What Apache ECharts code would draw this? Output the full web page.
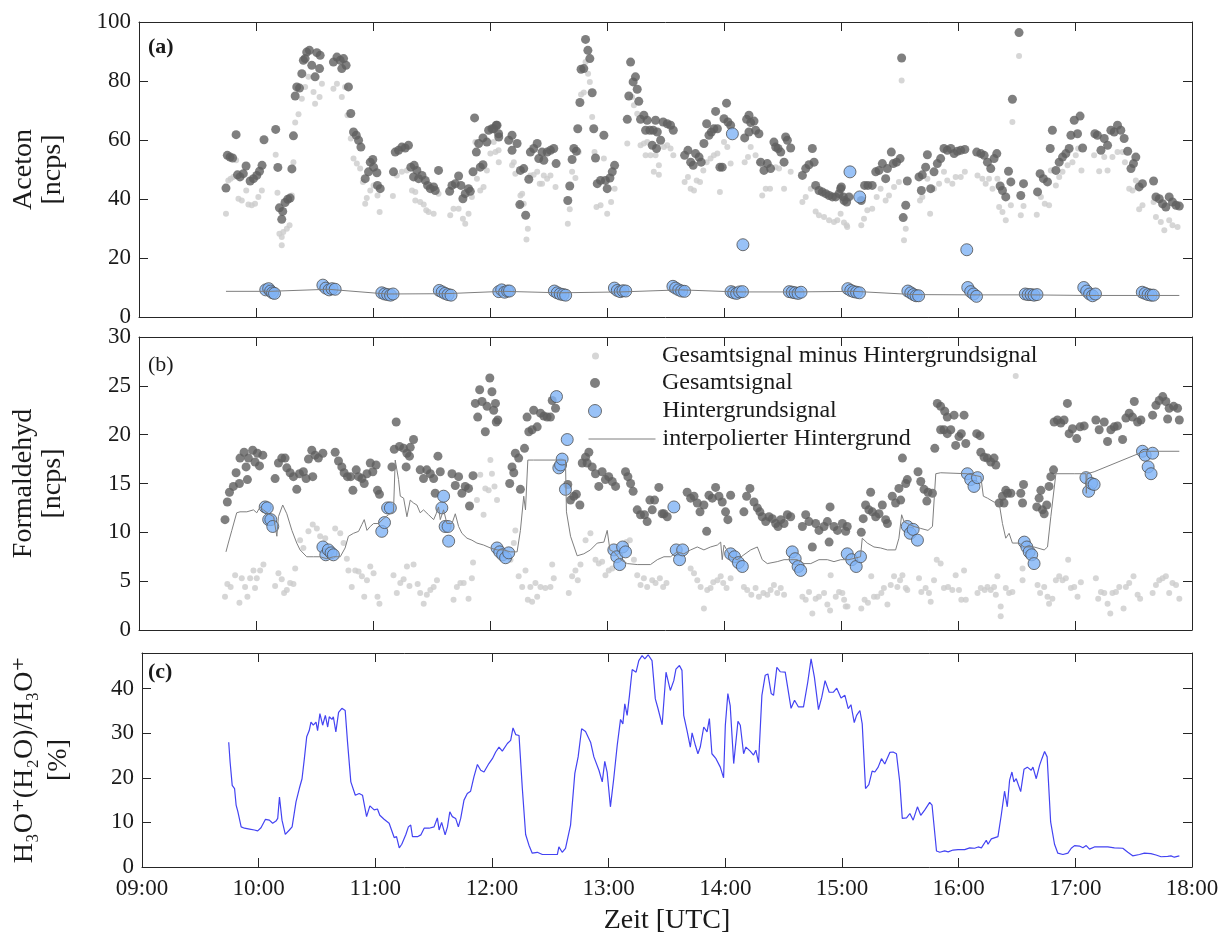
<!DOCTYPE html>
<html><head><meta charset="utf-8">
<script src="https://cdn.jsdelivr.net/npm/echarts@6/dist/echarts.min.js"></script>
<style>html,body{margin:0;padding:0;background:#fff}#c{width:1230px;height:939px}</style>
</head><body><div id="c"></div>
<script>
// time in minutes since 00:00 UTC
const timeLabels = ['09:00','10:00','11:00','12:00','13:00','14:00','15:00','16:00','17:00','18:00'];

const acetonGesamt = [[584.6,43.7],[585.3,54.8],[586.7,54.2],[588,53.9],[589.8,61.8],[590.5,48.2],[591.8,47.5],[593.5,48.6],[594.9,51.2],[597,46.1],[598.7,46.9],[600.4,48],[601.8,49.4],[603.1,51.4],[604.1,60.1],[610.1,63.6],[611.2,50.7],[612,37],[613.2,33.1],[613.7,35.8],[614.9,38.8],[616.3,39.9],[617.5,40.3],[618.4,50.2],[619.2,61.4],[620.1,74.9],[620.9,78],[622.3,77.6],[623.5,82.5],[624.3,87],[625.2,87.6],[626,89.8],[627.4,90.4],[628.6,85.3],[630.3,81.4],[631.2,89.6],[632.6,84.2],[632.9,88.7],[639.7,86.4],[641.5,88.1],[643.2,87],[644,84.2],[644.9,87.6],[646.2,85.3],[647.4,78],[648.6,69],[650,62.7],[651.4,61.6],[652.6,59.9],[653.8,57.6],[656,46.9],[657.7,49.2],[658.6,52.5],[659.9,53.4],[660.3,50.8],[662,48.9],[662.3,44.6],[663.7,43.5],[670.5,49.2],[671.4,55.9],[673.1,56.5],[674.8,57.6],[676.5,57.3],[678.2,58.2],[679.4,50.8],[680.8,47.5],[681.1,51.4],[682.5,49.7],[683.4,46.9],[685.1,48],[686.8,46.3],[688,44.6],[689.4,43.5],[691.1,44.1],[691.9,42.9],[693.6,49.7],[699.3,42.6],[700.5,44.6],[702.2,45.2],[703.9,47.8],[705.1,44.6],[706.1,40.1],[707.3,41.8],[709,43.5],[709.9,42.6],[711.3,49.2],[712.1,67.5],[713,55.9],[714.2,58.8],[715,50.8],[716.4,51.6],[716.4,60.7],[718.4,59.3],[719.3,63.3],[721,63.8],[721.9,63.8],[723.2,65],[723.6,65],[724.4,62.1],[724.5,61],
[729.6,59.9],[731.3,61.6],[731.3,56.5],[733.9,58.8],[735.6,49.7],[737.3,50.3],[735.3,38.1],[738.3,34.5],[739.9,46.7],[740.7,55.9],[742.4,57.1],[744.2,58.8],[745,53.7],[746.7,55.9],[747.6,53.1],[749.3,55.9],[751,56.5],[752.7,57.1],[753.9,52],[759.9,39.5],[760.9,44.4],[762.1,53.4],[763,57.1],[764.3,56.2],[765,63.8],[766.1,72.7],[766.7,84],[768.1,84.2],[769,94.1],[770.2,90.4],[771.2,87.6],[772.4,76],[773.2,63.8],[774.1,53.9],[775,45.2],[776.7,46.3],[778.4,61.6],[779.2,46.3],[780.1,43.5],[781.5,47.1],[782.7,49.2],[783.9,51.4],[790.4,67],[791.2,74.9],[792.1,86.4],[793.4,79.7],[794.6,81.4],[795.5,77.2],[796.3,73.1],[797.2,67],[798.9,68.4],[799.8,63.3],[800.6,66.7],[802,63.3],[803.2,58.2],[803.7,63.3],[804.9,66.7],[805.4,57.1],[805.8,62.7],[807.5,59.9],[808.8,66.1],[810.9,65.5],[812.6,65],[814,63.3],[819.8,54.8],[821.5,56.5],[822.9,52.5],[824.2,51.4],[825.4,55.4],[827.2,54.2],[828.3,52.5],[829.7,58.8],[831.1,65.5],[832.3,61.6],[833.5,62.7],[834.8,63.8],[835.7,69.7],[836.6,63.8],[837.9,50.8],[839.1,50.8],[840,67.2],[841.3,72.5],[842,66.1],[843.4,65],[850.6,60.7],[851.6,67],[852.8,68.4],[852.8,62.7],[853.7,65.9],[855.4,66.4],[856.2,63.3],[857.9,62.1],[858.8,52.5],[860.5,49.7],[862.2,52],[863.9,50.3],[865.6,59.3],[866.5,57.6],[867.7,57.1],[869.1,55.9],[870.8,52.5],[871.6,61],[872.5,59.9],[874.2,57.3],[880.2,48],[881.9,50.3],[883.6,51.6],[885.3,57.1],[886.2,52.5],[887,44.6],[888.7,42.9],[890.4,42.4],[892.2,41.8],[893.9,41.2],[895.6,40.7],[897.3,40.7],[899,41.8],[899.8,43.5],[900.2,44.1],[901.2,40.7],[901.6,39.5],[902.9,39],[904.1,40.7],
[910.4,39.5],[912.1,44.6],[913.8,44.6],[916,44.6],[917.8,49.2],[919.5,49.7],[921.2,52],[922.9,46.9],[923.8,50.3],[925.8,55.9],[926.8,52],[928.5,52.5],[930.3,53.7],[931.1,87.8],[931.9,33.7],[933.2,37.9],[934,46.1],[940,47.5],[941.2,42.9],[941.7,48.2],[943.4,50.8],[944.3,55],[946,43.5],[947.7,49.2],[949.4,52],[951.1,53.7],[952.8,57.1],[954.5,56.5],[956.3,57.1],[958,55.4],[959.7,56.2],[961.4,56.5],[963.5,56.8],[969.6,55.9],[971.7,55.4],[973.4,54.8],[975.1,52.5],[976.8,50.3],[978.5,53.7],[979.9,55.4],[981.6,44.4],[982.8,42.9],[984.5,40.7],[985.9,49.4],[987.1,45.8],[987.9,73.8],[991.3,96.4],[992.2,41.2],[993.6,45.2],[1000.8,42.4],[1002.1,48.6],[1003.8,46.9],[1005.9,45.8],[1007.3,57.1],[1008.4,63.3],[1010.2,49.7],[1011.9,52.5],[1013.6,54.2],[1015.3,55.4],[1017,57.1],[1017.9,61.6],[1019.6,66.7],[1021.3,62.1],[1022.6,68.1],[1023.9,57.3],[1030.2,62.1],[1031.5,61.6],[1033.3,56.5],[1035,60.5],[1036.7,58.2],[1038.4,63.3],[1040.1,62.7],[1041.8,65],[1043.5,63.3],[1045.2,60.5],[1047,56.2],[1048.7,50.3],[1050,52],[1051.2,54.2],[1052.9,44.1],[1054.6,45.2],[1060.3,46.1],[1061.5,40.7],[1063.2,40.1],[1064.9,38.4],[1066.6,37.3],[1068.3,40.7],[1070,39],[1071.8,37.9],[1073.5,37.6]];

const acetonNetto = [[584.6,35],[585.8,46.3],[587,46.9],[588.4,47.5],[589.8,53.1],[591,40.1],[592.7,39.5],[595,42.9],[596.1,38.1],[597.8,37.9],[599.5,38.4],[601.2,40.7],[603,42.9],[610.1,55],[611,42.1],[612,28.2],[613.2,27.1],[613.2,24.3],[614,28.8],[615.8,29.9],[617.2,31.1],[618.4,41.2],[619.2,52.5],[620.1,65.9],[621.8,68.7],[623.5,74],[625.2,78],[626.9,81.4],[629.5,76.3],[630.3,72.3],[632.6,74.6],[633.8,79.1],[639.7,77.4],[641.5,79.1],[644,74.6],[645.7,78],[646.9,68.4],[648.6,60.5],[650,53.7],[651.7,52],[653.4,50.3],[654.8,45.8],[656,38.4],[656.8,40.3],[658.6,42.9],[660.3,44.6],[662.3,41.2],[663.4,35.6],[670.2,41],[672.2,48],[674.8,49.2],[677.4,49.7],[680,42.9],[681.7,42.4],[681.7,39.5],[684.2,39],[686,38.1],[687.3,36.2],[688.5,35.6],[691.1,35],[693.6,41.8],[699.6,34.5],[701.3,36.7],[703.9,36.7],[706.1,33.3],[707.3,31.6],[709,35],[710.7,40.7],[712.5,59.3],[713.3,46.9],[715,42.9],[716.7,44.1],[718.4,49.7],[720.2,55.4],[721.9,59.3],[722.8,55.9],[724.4,56.5],[724.5,52.5],
[731.3,51.4],[732.2,52.5],[733,48.6],[735.6,41.2],[736.5,41.8],[735.6,38.1],[737.3,38.4],[738.7,26.3],[739.4,29.9],[740.7,48],[742.4,48.2],[744.2,49.2],[745.5,45.2],[746.7,45.2],[747.6,48],[749.3,46.9],[751,48],[753.6,44.1],[759.9,31.6],[760.9,36.5],[762.1,49.2],[763.8,47.1],[765.5,55.9],[766.7,75.4],[768.1,76.1],[769,86.4],[770.3,82.5],[771.2,79.7],[772.4,67.8],[773.6,55.9],[774.6,37.3],[776.7,37.9],[778.4,53.7],[780.1,35],[782.1,39],[783.9,43.5],[790.4,58.8],[792.9,74.6],[793.8,71.8],[795.5,68.9],[797.2,58.2],[798.9,58.8],[799.8,54.8],[800.6,59.3],[802.3,54.8],[804,49.2],[804.9,54.8],[806.6,51.4],[806.6,48.2],[809.2,57.6],[810.9,58.2],[812.6,57.1],[814,54.8],[819.8,45.8],[821.5,47.5],[822.9,43.5],[824.6,42.9],[826,46.3],[827.7,45.8],[829.4,49.7],[831.1,52.5],[833.1,53.7],[834.8,54.8],[836.6,55.4],[837.9,42.4],[840,59.3],[841.7,57.6],[843.4,52],[850.6,52.5],[852.3,54.2],[853.7,57.6],[856.2,54.8],[857.9,52.5],[859.6,41.2],[861.4,43.5],[863.6,43.5],[866.5,50.8],[868.2,50.3],[870.8,43.5],[874.2,49.2],[880.2,39],[881.9,40.7],[884.5,43.5],[887,35.8],[888.7,34.5],[891.3,33.9],[893.9,32.8],[896.4,32.2],[898.1,32.8],[899.8,35],[901.5,32],[902.9,31.1],[903.2,30.5],
[910.4,31.1],[911.8,33.3],[913.5,36.2],[916,36.7],[918.3,40.7],[920.3,43.5],[922.9,39.5],[924.6,41.2],[927.2,44.1],[929.7,45.8],[931.1,80.2],[932.3,26],[933.2,29.9],[940.5,39.5],[941.7,40.7],[944.3,46.9],[945.7,35],[947.7,43.5],[950.3,45.2],[952.8,49.2],[954.5,46.3],[957.1,45.2],[958.8,47.5],[961.4,47.5],[963.5,49.2],[970,48],[972.5,46.9],[974.2,45.2],[975.9,46.9],[977.7,43.5],[980.2,46.9],[981.1,37.3],[982.8,35.6],[984.5,32.8],[987.1,37.9],[987.9,66.1],[991.3,88.5],[992.2,34.5],[993.6,37.6],[1000.4,34.7],[1002.5,40.7],[1004.5,38.4],[1006.7,37.9],[1007.6,49.7],[1010.2,44.6],[1011.9,47.5],[1013.6,49.2],[1016.2,51.4],[1018.7,52.5],[1020.4,54.8],[1021.6,57.1],[1023.3,49.7],[1029.8,54.8],[1032.4,49.4],[1035,54.2],[1036.7,49.7],[1039.2,54.2],[1041.8,55.9],[1044.4,55.9],[1045.6,52.5],[1047.8,43.5],[1049.5,42.9],[1051.2,46.3],[1052.9,36.5],[1054.6,37.9],[1060.3,39],[1061.5,33.9],[1064,32.2],[1065.8,29.4],[1068.3,32.8],[1070,31.1],[1072.6,30.5]];

const acetonHintergrund = [[605,9.2],[606.5,9.6],[607.5,8.8],[608.5,8.2],[609.5,8],
[634.3,10.8],[635.8,9.8],[637.5,9.2],[639,9.6],[640.6,9.4],
[664.5,8.2],[666,7.8],[667.5,7.6],[669,7.4],[670.3,7.8],
[694,9],[695.5,8.5],[697,8],[698.5,7.6],[700,7.4],
[724.5,8.6],[726,9.2],[727.5,8.4],[729,8.8],[730,8.8],
[753,8.8],[754.5,8.2],[756,7.8],[757.5,7.6],[758.8,7.4],
[783.8,9.8],[785.3,9],[786.8,8.6],[788.2,8.9],[789.6,8.8],
[813.8,10.4],[815.2,9.8],[816.8,9.2],[818.3,8.8],[819.8,8.7],
[843.6,8.6],[844.3,62.1],[845,8.2],[846.5,8],[848,8.5],[849.5,8.6],[849.7,24.5],
[873.5,8.6],[875,8.4],[876.5,8.2],[878,8],[879.5,8.4],
[903.5,9.6],[904.6,49.2],[905,9],[906.5,8.6],[908,8.4],[909.5,8.2],[909.6,40.7],
[934.3,8.8],[935.8,8.2],[937.2,7.6],[938.5,7.2],[939.8,7.2],
[964.5,22.8],[965,10],[966.5,8.6],[968,7.8],[969.5,7],
[994.5,7.8],[996,7.6],[997.5,7.6],[999,7.4],[1000.5,7.6],
[1024.5,10],[1026,8.8],[1027.5,7.8],[1029,7.2],[1030.5,7.8],
[1054.5,8.4],[1056,8],[1057.5,7.6],[1059,7.4],[1060.2,7.4]];

const acetonInterp = [[584.6,8.7],[607,8.7],[637,9.4],[667,7.8],[697,7.9],[727,8.7],[756,8.2],[787,8.5],[817.7,9.2],[846.8,8.5],[876.8,8.5],[906.6,8.7],[937.5,7.6],[967.4,7.5],[997.3,7.5],[1026.4,7.3],[1057.2,7.3],[1073.5,7.3]];

const formGesamt = [[584.1,11.3],[585.3,13.1],[586.4,14.1],[588.4,14.7],[589.8,16.1],[591.5,15],[591.8,17.6],[593.9,18.2],[594.9,16.7],[595.6,15.4],[596.1,17.6],[598.3,18.4],[599.5,17.2],[600.7,18.1],[601.8,16.8],[603.5,17.9],[609.8,15.5],[611.5,17.1],[613.2,17.6],[614.9,17.6],[615.8,16.6],[617.5,16.1],[619.2,15.7],[620.9,14.4],[622.3,16],[624.3,16.2],[625.7,15.5],[626.9,17.5],[628.6,18.4],[629.1,15.7],[630.3,17.9],[632,17.6],[634.3,18.1],[640.6,18.2],[642.3,17.3],[644,16.7],[645.2,16.1],[646.9,15.7],[648.6,15.7],[649.7,14.3],[651.4,16.4],[652.6,15.7],[654.3,15.5],[655.5,15],[656.9,16],[658.6,17.1],[659.9,16.2],[661.6,16.9],[662.3,14.3],[663.3,13.9],[669.7,16.7],[670.9,18.5],[671.9,21.3],[673.6,18.8],[675.7,18.6],[677,16.7],[677.4,18.1],[678.7,17.8],[679.1,18.7],[680.8,19.5],[684.2,16.4],[685.9,15.5],[687.6,16.4],[689.4,16],[691.1,15.5],[691.9,14],[693.3,17.8],[694.5,16.2],[700.5,16],[702.2,14.8],[703.9,15.7],[705.6,14],[707.3,14.7],[709,14.5],[709.5,12.7],[711.3,15.8],[712.5,23.2],[713.7,21.8],[714.7,24.6],[715.9,23.4],[717.6,20.3],[718.5,22.9],[719.9,25.8],[721,24.4],[721.9,22.5],[722.8,23.2],[723.2,21.3],[724,21.5],
[730.1,15],[731.3,16.7],[732.2,16.1],[733,18.1],[734.7,17.6],[735.6,14.4],[737.7,18.6],[739,21.8],[739.9,20.3],[741.6,20.5],[742.4,22.5],[744.2,20.8],[745.9,22.2],[747.6,21.9],[749.3,21.8],[751,21.8],[751.9,23.5],[753.6,22.7],[759.9,14.9],[761.3,13.3],[763,13.7],[764.3,13.9],[766.1,12.8],[767.3,17.1],[769,17.7],[769.8,17.1],[770.7,18.2],[772.4,16.7],[774.1,16],[775.8,14.7],[777.5,16.2],[779.2,15.4],[780.9,15.7],[782.7,15.2],[784.4,14.7],[789.5,16.2],[790.7,15.7],[792.1,15],[793.4,14.2],[795.5,12.3],[797.2,11.8],[799.2,11.8],[800.6,11.1],[802,13.3],[803.2,12.3],[804.4,13.3],[806.6,14.6],[808.3,11.9],[809.2,11.9],[810.9,11.6],[821.1,14.1],[822.9,13.5],[824.6,13.7],[826.3,13],[827.7,12.1],[829.7,12.8],[831.1,10.1],[832.3,13.8],[834,13.5],[835.7,14.6],[837.4,13.7],[839.1,13.1],[840.8,12.1],[842,11.3],[843.4,13.8],[850.2,12.1],[851.6,13.7],[853.3,14.5],[855.4,13.1],[857.1,12.5],[858.4,12.1],[859.6,11.6],[861.4,11.1],[863.1,11.6],[864.8,11.4],[866.5,10.9],[867.7,10.6],[869.1,11.3],[870.8,10.9],[872.5,11.8],[874.2,11.6],[880.2,10.6],[881.9,11.8],[883.6,11.1],[885.3,8.5],[887,10.9],[888.7,10.2],[891.3,10.6],[893,11.1],[893.9,9],[894.4,12.6],[896.4,10.6],[898.2,10.2],[900.7,10.9],[902.4,10.1],[903.2,10.6],
[910.4,10],[911.4,11.4],[912.6,12.8],[914.3,12.3],[915.2,14.1],[916.1,12.1],[917.8,11.6],[919.5,11.9],[921.2,12.8],[922.9,11.3],[923.8,10.9],[926.3,13.7],[928,13],[929.7,14.5],[930.6,13.3],[931.5,17.6],[933.2,15],[934,15.4],[939.5,16.2],[940.9,15.2],[942.6,14.4],[944,13.2],[944.6,14.1],[946.9,14],[948.1,18.6],[949.4,23.2],[951.1,22.9],[951.1,20.5],[952.8,20.5],[953.2,22.4],[954.5,21.8],[954.5,20.1],[956.3,20.5],[958,22],[958.8,18.9],[960.5,19.8],[961.7,20.1],[963.1,22],[964,19.1],[969.6,20.1],[971.3,19.9],[971.7,18.2],[973.4,17.7],[975.1,17.6],[976.8,17.2],[978.5,17.6],[979.4,16.9],[981.1,13],[982.8,13.7],[983.6,13],[984.5,14.3],[985.4,14],[987.1,14],[992.2,14],[993.1,13],[993.6,14.9],[1000.4,12.6],[1001.6,13.5],[1002.5,14.3],[1003.3,12.3],[1004.2,11.9],[1005.5,12.8],[1006.7,14.7],[1007.6,15.7],[1009,16.4],[1009.3,21.3],[1011,21.5],[1012.7,21.2],[1014.4,21.5],[1016.1,23.2],[1017,20.1],[1018.7,20.6],[1020.9,19.6],[1022.6,20.8],[1024.7,20.9],[1030.7,21.5],[1032.4,20.5],[1035,21.3],[1036.7,19.3],[1038.4,20.5],[1040.1,20.8],[1041.8,20.9],[1044.4,19.5],[1046.1,21.7],[1047.8,22.2],[1049.5,21.8],[1050.4,23.4],[1052.1,21.3],[1053.8,21.5],[1059.8,22],[1061.5,23],[1063.2,23.5],[1065,23.9],[1066.6,23.4],[1067.5,21.6],[1068.3,22.7],[1070.6,22.9],[1072.6,22.7],[1073.5,21.5]];

const formNetto = [[584.1,3.4],[585.3,4.7],[587,4.4],[589.3,5.6],[591.5,2.8],[592.7,5.3],[594.4,4.4],[595.6,3.4],[597,5.3],[598.7,6.1],[599.5,4.3],[600.4,5.3],[602.1,6.1],[603.8,6.7],[609.8,4.5],[611.5,5.8],[613.2,5.2],[614.4,3.8],[615.8,4.1],[617.5,4.8],[619.2,4.7],[620.1,6.3],[622.6,9.2],[624.3,8.4],[626.9,10.1],[629.1,10.8],[631.2,10.4],[632.9,9.6],[635.5,9.4],[640.6,10.4],[643.2,9.9],[644.9,8.9],[646.6,7.3],[647.4,6.1],[649.1,4.4],[650.9,6.1],[652.6,6],[654.3,5.5],[655.5,3.4],[656.9,5.1],[658.6,6.5],[660.3,5.8],[662.3,3.4],[663.3,2.7],[670.5,5.6],[672.2,3.8],[674,4.8],[675.7,5.2],[677.4,6.5],[678.7,4.5],[680.8,6.7],[682.9,4.7],[684.2,3.8],[686,2.7],[687.6,3.6],[689.4,4.1],[691.1,4.4],[692.8,5.1],[701.3,3.1],[703,4.4],[704.8,4.8],[706.5,4.8],[709,3.2],[710.7,5.3],[711.3,6.9],[713.3,13.3],[715,15.9],[716.7,11.8],[717.6,14.5],[719.3,14.3],[720.2,17.4],[721,16],[722.3,14.7],[723.6,13.3],[730.5,7.2],[732.2,8.9],[733,10.2],[734.7,5.5],[736.5,4.4],[738.2,6.1],[739.4,3.1],[740.7,4.4],[741.6,2.9],[743.3,4.8],[744.2,3.4],[745.9,4.4],[748.4,4.3],[751,4.4],[751.9,6.7],[752.7,5.3],[760.4,3.8],[762.1,5.5],[763.8,6.1],[765,5.1],[766.4,6.7],[769,9.2],[771.5,9.9],[774.1,7.2],[775.8,6.8],[777.5,7],[779.2,5.6],[780.9,6.1],[782.7,6.3],[790,9],[791.7,9.2],[793.8,7.2],[795.5,5.6],[797.2,4.6],[798.9,5.3],[800.6,4.4],[803.2,5.1],[804.9,4.8],[807.1,5.3],[808.8,4.4],[810.5,4.8],[822.9,6.3],[824.6,5.8],[826.3,5.1],[828,4.4],[829.7,2.2],[831.4,4.1],[833.1,4.3],[834.5,4.9],[836.6,5.1],[838.3,5.5],[839.6,4.8],[841.3,4.3],[843.4,5.3],[850.2,4.4],[851.9,4.1],[854,3.6],[856.2,4.3],[857.9,3.4],[860.2,3.8],[862.2,3.6],[863.9,4.1],[865.6,4.6],[867.3,3.8],[869.1,4.3],[870.8,3.6],[880.2,3.4],[881.9,3.1],[883.6,3.9],[885.3,1.7],[887,3.2],[888.7,3.4],[891.3,3.8],[893,2.6],[894.4,2],[894.7,5.6],[897.3,3.4],[899,3.9],[900.7,3.8],[901.6,3.1],[902.4,2.4],[903.3,2.4],[910.4,2.2],[912.1,3.1],[913.8,2.8],[915.5,5.5],[916.9,3.4],[918.6,3.4],[920.7,3.8],[922,4.3],[923.8,2.6],[925.5,4.6],[927.2,5.5],[928.9,4.4],[930.3,5.1],[931.5,5.6],[933.2,4.3],[934,4.1],[940,5.3],[941.2,3.9],[943.4,4.3],[945.1,3.8],[946,2.9],[947.7,5.1],[949.1,7.2],[951.1,6.8],[952.8,4.3],[954.9,4.4],[957.1,4.1],[958.8,5.6],[960.5,4.1],[961.7,3.1],[963.1,6.1],[964,3.1],[970,3.8],[971.7,4.3],[973.7,4.1],[975.1,4.4],[976.8,4.1],[978.5,4.4],[979.4,3.6],[980.2,5.5],[981.9,2.4],[981.9,1.4],[984.5,4.3],[986.2,3.8],[987.9,3.9],[989.6,26],[993.1,5.1],[993.1,6.3],[1000.8,4.6],[1002.1,3.8],[1004.2,4.4],[1005.9,3.4],[1006.7,2.7],[1008.4,3.2],[1010.2,5.1],[1011.9,5.5],[1013.6,5.1],[1015.3,5.3],[1016.5,7.2],[1017.9,4.3],[1019.6,4.4],[1021.3,3.4],[1023,4.9],[1030.7,5.3],[1031.9,3.2],[1033.3,3.9],[1035,3.8],[1036.7,2.7],[1038.1,1.7],[1039.2,3.8],[1041,3.9],[1042.7,4.4],[1044.9,2.2],[1046.1,4.4],[1047.8,4.8],[1050,5.5],[1052.1,3.6],[1053.4,3.2],[1059.8,3.8],[1061.5,4.6],[1063.2,5.1],[1064.9,5.3],[1066.6,5.5],[1068.3,3.8],[1070,4.8],[1071.8,4.6],[1073.5,3.2]];

const formHintergrund = [[604.7,12.6],[605.8,12.5],[606.5,11.3],[607.6,11.3],[608.6,10.6],
[634.3,8.5],[635.8,7.7],[637.1,8.2],[638.5,7.9],[639.7,7.7],
[664.5,10.1],[665.9,11],[667.5,12.5],[668.9,12.5],
[695.3,12.5],[696.2,13.7],[697,10.6],[698.5,10.6],[698.8,9.1],
[723.6,8.4],[725,8],[726.5,7.7],[728,7.4],[729.6,7.9],
[754.1,23.9],[755.3,16.6],[756.2,16.9],[757,17.5],[758.7,14.4],[759.6,19.5],
[783.5,8.2],[785,7.5],[786.5,6.7],[788,8.5],[789.5,8],
[814.3,12.6],[815.5,8.2],[817.2,7.2],[818.8,8.2],
[843.4,7.8],[845.4,7.5],[847.4,6.9],[849.4,6.5],
[875,8],[876.5,7.3],[878,6.5],[879.3,6.1],
[903.2,7.8],[905.5,7.2],[907.8,6.5],[910,7.5],
[934,10.6],[935.5,9.9],[937,10.3],[939.2,9.2],
[964.8,16],[966.5,15.4],[968.2,14.7],[970,15.6],
[994,9],[995.3,8.5],[996.5,8],[997.8,7.7],[999,6.8],
[1025.6,15.6],[1027,14.2],[1028.5,15],[1029.8,14.9],
[1054.6,18.3],[1056,17.9],[1057.5,16.7],[1059,16],[1059.8,18.1]];

const formInterp = [[584.6,8],[585.8,8.9],[587.6,10.2],[590.1,12],[591.8,12.1],[595.3,12.1],[598.7,12.3],[600.4,12],[602.1,12.6],[603.8,12.3],[606.5,11.9],[609,11.6],[610.7,9.6],[611.5,11.6],[613.7,12.8],[615.8,11.9],[618.4,10.2],[620.9,8.9],[622.6,8.2],[626,7.5],[629.5,7.5],[632.9,7.5],[636.3,7.3],[639.7,7.5],[643.2,7.5],[645.7,8.4],[647.4,9.6],[650,9.9],[652.6,10.1],[654.3,10.8],[655.5,11.3],[656.9,10.2],[658.6,10.6],[660.3,10.9],[662.8,10.9],[665.4,11.4],[667.9,11.8],[670.5,12.1],[671.4,17.4],[672.2,17.5],[673.1,15.4],[674,13.7],[675.7,13.5],[677.4,11.6],[679.1,13.3],[680.8,13],[682.5,12.8],[684.2,12],[685.9,12.3],[688.5,11.8],[691.1,11.3],[692.4,11.9],[693.6,12.6],[694.5,11.3],[696.2,12.3],[697.9,10.9],[700.5,10.9],[702.2,11.9],[703.9,10.6],[705.6,9.9],[708.2,9.4],[710.7,9.2],[713.3,8.9],[716.7,8.7],[720.2,8.4],[723.6,8.2],[727,8.2],[730.5,8],[733.9,8],[735.6,10.2],[737.3,13.7],[738.2,12.3],[739.4,17.4],[742.4,17.4],[754.4,17.4],[758.7,17.4],[759.2,12.1],[761.3,9.6],[764.7,7.6],[768.1,7.8],[771.5,8.2],[775,8.9],[778.4,9],[780.1,10.2],[781.5,8.2],[783.5,8],[786.9,7.2],[790.4,6.8],[795.5,6.7],[802.3,6.7],[805.8,7.2],[809.2,7.5],[812.6,7.5],[816,8],[819.4,7.8],[822.9,8.2],[826.3,8.5],[829.7,8.2],[833.1,8.5],[836.6,8.7],[838.3,9],[839.1,7.2],[840,8.7],[843.4,7.5],[846.8,7.2],[850.2,7.7],[853.7,8.2],[857.1,8.5],[859.6,7.2],[862.2,6.8],[867.3,7],[870.8,7.2],[874.2,7.2],[877.6,7.2],[881,6.8],[884.5,6.8],[888.7,7.2],[893,7.2],[896.4,7],[899.9,7.2],[904.1,7.2],[910,7.5],[910.9,9.4],[913.5,8.9],[916.9,8.5],[920.3,8.4],[923.8,8.2],[928,8.2],[929.7,9.4],[931.1,11.8],[932.3,11.1],[934,10.9],[937.4,10.6],[940.9,10.4],[944.6,10.2],[946.9,10.6],[948.6,16],[951.1,16.1],[964.8,16],[971.7,15.7],[973,13.7],[975.1,13.5],[978.5,13.1],[981.1,13],[982.8,10.9],[984.5,9.4],[986.2,9.9],[987.9,8.9],[991.3,8.9],[993.9,8.5],[999,8.5],[1004.2,8.2],[1005.9,8.5],[1007.6,11.6],[1010.2,16],[1019.6,16],[1025.6,16],[1025.8,14],[1026.2,16],[1029.8,16.2],[1055.5,18.3],[1073.5,18.3]];

const h3oRatio = [[584.6,28],[585.3,23.6],[586.4,18.3],[587.6,17.6],[588.4,13.9],[589.3,12.4],[591,9],[592.7,8.7],[595.3,8.5],[597.8,8.3],[599.5,8.1],[601.2,8.8],[603.5,10.7],[605.5,10.5],[607.2,9.8],[608.9,10.3],[609.8,10.9],[610.7,15.7],[612,10.5],[613.7,7.3],[615.8,8.3],[617.2,9],[619.2,14.6],[620.9,17.6],[622.3,19.8],[623.5,24.3],[624.7,29.2],[626,30.6],[626.9,32.5],[628.1,31.8],[629.5,32.5],[630.3,30.6],[631.5,34.4],[632.9,31.8],[634.3,34],[635.5,31.4],[636.3,33.7],[637.7,33.1],[638.4,33.7],[639.7,30.3],[641.1,34.7],[642.8,35.6],[644.5,35.1],[645.7,28],[647.4,19.1],[649.7,16.1],[651.7,16.5],[653.4,16.1],[654.3,16.5],[655.5,11.3],[657.2,13.7],[659.4,12.8],[661.1,13],[662.3,11.6],[664.5,10.7],[667.1,9.8],[669.7,6.6],[670.9,6.8],[672.3,4.3],[673.6,5.1],[675.7,7.3],[677,9],[678.2,9.4],[679.1,6.8],[681.7,6.8],[683.4,7.2],[685.1,8.7],[687.6,8.7],[690.2,9],[691.9,11],[692.8,8.3],[694.1,10],[695.9,7.2],[697.1,9],[698.3,12.4],[699.6,11.3],[701.3,10.9],[702.7,9],[703.9,10.9],[705.6,15],[707.3,16.5],[709,17],[710.7,20.2],[712.5,23],[714.2,21.7],[715.9,21.3],[718.4,23.2],[720.2,24.3],[721.9,25.8],[723.6,26.9],[725.3,26],[727.9,27.7],[729.6,28.4],[730.8,31.2],[732.2,29.7],[733.9,29.5],[735.6,17.6],[737.3,7.3],[739,4.9],[740.7,3.1],[743.3,3.3],[745.9,2.8],[749.3,2.8],[753.6,2.8],[754.4,4.5],[756.1,3.3],[757.8,4.2],[760.4,9.4],[762.6,21],[764.3,24.7],[766.1,31],[768.1,30.4],[770.7,28],[772.4,24.7],[775,21.7],[776.7,19.1],[778,23.7],[779.2,21.3],[780.9,13.5],[782.6,19.8],[784.4,27.3],[786.1,33.1],[787.3,32.1],[788.3,36.6],[789.5,34],[790.7,38.5],[792.1,44.3],[794.1,43.7],[795.5,46.3],[797.2,47.4],[798.6,46.7],[800.3,47.6],[802.3,46.3],[804,37.7],[805.4,35.5],[807.5,31.9],[809.5,43.7],[811.7,39.6],[813.5,41.8],[814.6,44.4],[816.4,45.2],[817.7,44.1],[818.6,34],[820.3,30.6],[822,26.9],[822.9,30.1],[824.6,27.3],[825.9,25.4],[827.1,26.9],[828.9,31.4],[830.6,30.3],[831.8,33.3],[833.1,25.4],[835.2,24.3],[837.4,22.4],[839.1,20],[840,31.8],[841.3,38.9],[842.5,36.2],[844.3,23.2],[846.5,32.7],[847.7,31.8],[849.4,25.4],[850.6,26.9],[852.8,26],[854.5,25.1],[855.7,26.2],[857.1,23.4],[858.8,38.5],[860.5,43],[861.9,43.3],[863.6,38.9],[864.8,38.5],[866.5,44.8],[868.2,43.8],[870.8,43.7],[873.8,35.6],[875.6,37.4],[877.6,35.9],[880.2,35.9],[882.4,41.5],[884.1,46.7],[885.8,42.6],[887.9,35.3],[889.6,38.1],[891.3,41.8],[893.4,39.2],[895.6,39.2],[897.3,40.1],[899.5,37.9],[901.5,38.5],[903.2,35.5],[904.6,36.4],[906.3,32.4],[907.5,34],[909.2,35.1],[910.4,32.1],[912.1,17.6],[913.8,18.5],[915.5,21.5],[916.9,21.3],[918.6,22.4],[920.3,24.3],[922,23.1],[924.6,25.7],[926.3,25.8],[928,25.4],[929.7,19.1],[931,10.9],[933.2,11],[934.9,12],[936.6,10.5],[938.8,13.5],[940.5,11.6],[942.6,12.8],[945.1,14.5],[946.3,13.9],[948.6,3.6],[950.3,3.3],[952.8,3.6],[954.6,3.4],[957.1,3.8],[959.7,3.9],[963.1,3.9],[965.7,4.3],[968.2,4.2],[970,4.5],[971.7,4.3],[974.2,6],[975.1,5.1],[976.8,6.3],[980.2,6.8],[981.9,11.6],[983.6,17],[985,13.5],[986.2,19.5],[987.4,21.3],[988.4,19.1],[989.6,19.8],[991.9,16.9],[993.6,21.9],[995.3,22.4],[997.3,21.7],[998.2,22.4],[999.9,19.8],[1001.6,22.8],[1002.8,24.3],[1004.2,25.9],[1005.5,24.7],[1007.3,10.1],[1009.3,5.1],[1011,3.1],[1013.6,2.8],[1016.2,3.1],[1017.9,4.2],[1019.6,4.8],[1022.1,4.7],[1023.9,4.3],[1025.6,4.8],[1027.3,4],[1029.8,4.5],[1033.3,4.5],[1036.7,4.5],[1040.1,4.3],[1044.4,4.2],[1047,3.3],[1049.5,2.5],[1053,2.8],[1055.5,3.1],[1058.9,3],[1061.5,2.7],[1064.1,2.3],[1067.5,2.4],[1069.2,2.5],[1070.9,2.2],[1073.5,2.5]];

const FONT = '"Liberation Serif","DejaVu Serif",serif';
const FRAME = '#262626';
const TXT = '#1a1a1a';
const N_LIGHT = 'Gesamtsignal minus Hintergrundsignal';
const N_DARK = 'Gesamtsignal';
const N_BG = 'Hintergrundsignal';
const N_INT = 'interpolierter Hintergrund';

const grids = [
  {left:139, top:22, width:1053, height:295},
  {left:139, top:337, width:1053, height:293},
  {left:139, top:653, width:1053, height:214}
];
const yCfg = [
  {min:0, max:100, interval:20, name:'Aceton\n[ncps]', lh:29, gap:72},
  {min:0, max:30, interval:5, name:'Formaldehyd\n[ncps]', lh:29, gap:72},
  {min:0, max:48, interval:10, name:'H\u2083O\u207A(H\u2082O)/H\u2083O\u207A\n[%]', lh:34, gap:66}
];
const lineSt = {lineStyle:{color:FRAME, width:1}};
const xAxes = [], yAxes = [];
grids.forEach((g, i) => {
  const last = i === 2;
  xAxes.push({type:'value', gridIndex:i, min:540, max:1080, interval:60, position:'bottom',
    axisLine:{show:true, onZero:false, ...lineSt}, axisTick:{show:true, inside:true, length:9, ...lineSt},
    splitLine:{show:false},
    axisLabel:{show:last, margin:10, fontFamily:FONT, fontSize:23, color:TXT,
      formatter:v => timeLabels[Math.round((v-540)/60)]},
    name: last ? 'Zeit [UTC]' : '', nameLocation:'middle', nameGap:40,
    nameTextStyle:{fontFamily:FONT, fontSize:28, color:TXT}});
  xAxes.push({type:'value', gridIndex:i, min:540, max:1080, interval:60, position:'top',
    axisLine:{show:true, onZero:false, ...lineSt}, axisTick:{show:true, inside:true, length:9, ...lineSt},
    splitLine:{show:false}, axisLabel:{show:false}});
  const c = yCfg[i];
  yAxes.push({type:'value', gridIndex:i, min:c.min, max:c.max, interval:c.interval, position:'left',
    axisLine:{show:true, onZero:false, ...lineSt}, axisTick:{show:true, inside:true, length:9, ...lineSt},
    splitLine:{show:false},
    axisLabel:{margin:8, fontFamily:FONT, fontSize:23, color:TXT, showMaxLabel: i !== 2},
    name:c.name, nameLocation:'middle', nameRotate:90, nameGap:c.gap,
    nameTextStyle:{fontFamily:FONT, fontSize:28, color:TXT, lineHeight:c.lh, align:'center'}});
  yAxes.push({type:'value', gridIndex:i, min:c.min, max:c.max, interval:c.interval, position:'right',
    axisLine:{show:true, onZero:false, ...lineSt}, axisTick:{show:true, inside:true, length:9, ...lineSt},
    splitLine:{show:false}, axisLabel:{show:false}});
});

const lightStyle = {color:'#cccccc'};
const darkStyle = {color:'#5f5f5f'};
const blueStyle = {color:'#80b3f5', borderColor:'#4f4f4f', borderWidth:1};

function panelSeries(p, light, dark, bg, interp) {
  return [
    {name:N_LIGHT, type:'scatter', xAxisIndex:2*p, yAxisIndex:2*p, data:light, symbolSize:6, itemStyle:lightStyle},
    {name:N_DARK, type:'scatter', xAxisIndex:2*p, yAxisIndex:2*p, data:dark, symbolSize:9, itemStyle:darkStyle},
    {name:N_BG, type:'scatter', xAxisIndex:2*p, yAxisIndex:2*p, data:bg, symbolSize:12, itemStyle:blueStyle},
    {name:N_INT, type:'line', xAxisIndex:2*p, yAxisIndex:2*p, data:interp, symbol:'none',
      lineStyle:{color:'#7f7f7f', width:1}, itemStyle:{color:'#7f7f7f'}}
  ];
}

const series = [
  ...panelSeries(0, acetonNetto, acetonGesamt, acetonHintergrund, acetonInterp),
  ...panelSeries(1, formNetto, formGesamt, formHintergrund, formInterp),
  {name:'H3O', type:'line', xAxisIndex:4, yAxisIndex:4, data:h3oRatio, symbol:'none',
    lineStyle:{color:'#4343f2', width:1.2}}
];

const legTxt = {fontFamily:FONT, fontSize:24, color:TXT, lineHeight:24};
function leg(name, left, top, w, h, padL, extra) {
  return Object.assign({data:[{name, icon:'circle'}], left, top, orient:'vertical', padding:0,
    itemWidth:w, itemHeight:h, textStyle:{...legTxt, padding:[0,0,0,padL]}}, extra || {});
}

const option = {
  animation:false,
  backgroundColor:'#ffffff',
  grid: grids,
  xAxis: xAxes,
  yAxis: yAxes,
  title: [
    {text:'(a)', left:148, top:36, padding:0, textStyle:{fontFamily:FONT, fontSize:22, fontWeight:'bold', color:TXT}},
    {text:'(b)', left:148, top:354, padding:0, textStyle:{fontFamily:FONT, fontSize:22, fontWeight:'normal', color:TXT}},
    {text:'(c)', left:148, top:661, padding:0, textStyle:{fontFamily:FONT, fontSize:22, fontWeight:'bold', color:TXT}}
  ],
  legend: [
    leg(N_LIGHT, 592, 344, 7, 7, 58),
    leg(N_DARK, 590, 371, 10, 10, 57),
    leg(N_BG, 588, 399, 13, 13, 56, {itemStyle:{borderWidth:1, borderColor:'#4f4f4f'}}),
    {data:[{name:N_INT}], left:588, top:427, orient:'vertical', padding:0, itemWidth:67, itemHeight:14,
      itemStyle:{opacity:0}, lineStyle:{color:'#7f7f7f', width:1},
      textStyle:{...legTxt, padding:[0,0,0,2]}}
  ],
  series
};
const chart = echarts.init(document.getElementById('c'), null, {renderer:'canvas'});
chart.setOption(option);
</script></body></html>
